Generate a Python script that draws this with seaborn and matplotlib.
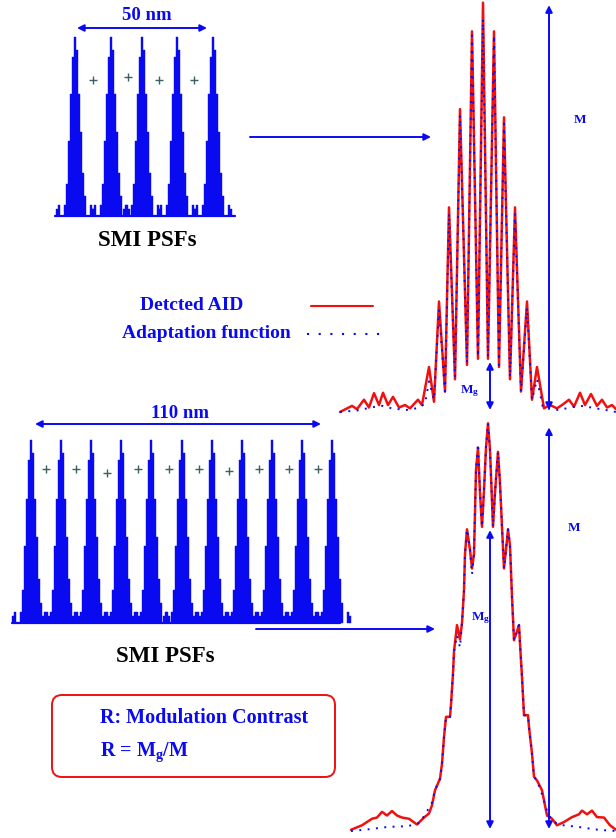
import numpy as np
import pandas as pd
import matplotlib
matplotlib.use('Agg')
import matplotlib.pyplot as plt
import seaborn as sns
from matplotlib.patches import FancyBboxPatch

# ---- data ----
# single SMI PSF profile (stepped), heights relative to peak, bins of 0.77 nm
psf_bin_nm = 0.77
psf_offset_bins = [-9, -8, -5, -4, -3, -2, -1, 0, 1, 2, 3, 4, 5, 8, 9]
psf_height = [0.04, 0.06, 0.06, 0.18, 0.42, 0.68, 0.89, 1.0, 0.93, 0.68, 0.47, 0.24, 0.11, 0.06, 0.04]

# peak centres (nm) of the two PSF trains and the "+" object positions
top_peaks_nm = [0, 13.8, 25.8, 39.2, 53.1]
top_plus_nm = [6.9, 20.4, 32.3, 45.8]
top_plus_h = [0.76, 0.775, 0.76, 0.76]
bot_peaks_nm = [0, 11.5, 23.1, 34.6, 46.2, 58.1, 69.6, 81.2, 92.7, 104.2, 115.8]
bot_plus_nm = [5.8, 17.3, 29.2, 41.2, 53.1, 64.6, 76.2, 87.7, 99.2, 110.4]
bot_plus_h = [0.84, 0.84, 0.82, 0.84, 0.84, 0.84, 0.83, 0.84, 0.84, 0.84]

# detected AID (red) and adaptation function (blue), 50 nm case
top_x = [-143, -131, -126, -119, -114, -109, -104, -100, -95, -90, -84, -78, -73, -65, -61,
         -54, -49, -44, -38, -34, -28, -23, -16, -11, -5, 0, 5, 11, 16, 21, 27, 32, 38, 44,
         49, 54, 61, 67, 74, 79, 86, 91, 97, 102, 108, 114, 119, 124, 129, 133]
top_aid = [0.0, 0.015, 0.007, 0.03, 0.011, 0.046, 0.017, 0.047, 0.017, 0.037, 0.011, 0.017,
           0.009, 0.03, 0.017, 0.11, 0.025, 0.27, 0.05, 0.50, 0.08, 0.74, 0.115, 0.93, 0.13,
           1.0, 0.13, 0.93, 0.11, 0.72, 0.08, 0.50, 0.05, 0.27, 0.03, 0.11, 0.009, 0.017,
           0.009, 0.017, 0.03, 0.013, 0.047, 0.017, 0.044, 0.015, 0.03, 0.011, 0.017, 0.007]
top_fit_x = [-143, -125, -110, -100, -90, -75, -65, -58, -54, -49, -44, -38, -34, -28, -23,
             -16, -11, -5, 0, 5, 11, 16, 21, 27, 32, 38, 44, 49, 54, 60, 75, 90, 100, 110,
             125, 133]
top_fit = [0.0, 0.004, 0.012, 0.015, 0.008, 0.005, 0.01, 0.02, 0.075, 0.03, 0.25, 0.05,
           0.485, 0.085, 0.725, 0.12, 0.92, 0.135, 0.96, 0.135, 0.92, 0.115, 0.705, 0.085,
           0.485, 0.05, 0.255, 0.03, 0.08, 0.01, 0.005, 0.012, 0.015, 0.01, 0.004, 0.0]

# 110 nm case
bot_x = [-137, -126, -116, -111, -106, -101, -96, -91, -86, -79, -71, -64, -59, -56, -53,
         -48, -46, -44, -42, -38, -37, -35, -34, -31, -28, -26, -24, -23, -21, -18, -16, -14,
         -12, -10, -8, -6, -4, -2, 0, 2, 5, 7, 10, 12, 14, 16, 18, 20, 22, 24, 26, 29, 31, 32,
         34, 36, 40, 41, 44, 46, 49, 54, 59, 64, 69, 76, 84, 91, 94, 99, 104, 109, 116, 122, 128]
bot_aid = [0.003, 0.014, 0.03, 0.033, 0.047, 0.038, 0.049, 0.038, 0.033, 0.03, 0.016, 0.033,
           0.043, 0.063, 0.10, 0.128, 0.165, 0.23, 0.28, 0.28, 0.31, 0.386, 0.44, 0.505, 0.47,
           0.51, 0.59, 0.68, 0.74, 0.69, 0.644, 0.68, 0.885, 0.94, 0.83, 0.746, 0.836, 0.94,
           1.0, 0.935, 0.746, 0.83, 0.93, 0.853, 0.746, 0.644, 0.69, 0.74, 0.70, 0.574, 0.468,
           0.49, 0.505, 0.46, 0.378, 0.284, 0.284, 0.255, 0.19, 0.133, 0.124, 0.10, 0.038,
           0.03, 0.014, 0.022, 0.034, 0.041, 0.05, 0.041, 0.05, 0.034, 0.033, 0.014, 0.003]
bot_fit_x = [-137, -120, -100, -80, -68, -62, -58, -56, -53, -48, -46, -44, -42, -38, -37,
             -35, -34, -31, -28, -26, -24, -23, -21, -18, -16, -14, -12, -10, -8, -6, -4, -2,
             0, 2, 5, 7, 10, 12, 14, 16, 18, 20, 22, 24, 26, 29, 31, 32, 34, 36, 40, 41, 44,
             46, 49, 54, 59, 64, 72, 90, 110, 128]
bot_fit = [0.0, 0.004, 0.01, 0.012, 0.02, 0.045, 0.06, 0.07, 0.10, 0.128, 0.165, 0.23, 0.28,
           0.28, 0.31, 0.386, 0.44, 0.48, 0.45, 0.51, 0.59, 0.68, 0.74, 0.69, 0.63, 0.68,
           0.885, 0.95, 0.83, 0.746, 0.836, 0.94, 1.0, 0.935, 0.746, 0.83, 0.93, 0.853, 0.746,
           0.644, 0.69, 0.74, 0.70, 0.574, 0.468, 0.49, 0.505, 0.46, 0.378, 0.284, 0.284,
           0.255, 0.19, 0.133, 0.124, 0.09, 0.05, 0.025, 0.015, 0.01, 0.003, 0.0]

BLUE = '#0a0af0'
RED = '#f01010'
PLUS = '#3d6060'
DOTS = (0, (1, 3.3))

sns.set_theme(style='white')
plt.rcParams['font.family'] = ['Liberation Serif', 'DejaVu Serif']
plt.rcParams['font.weight'] = 'bold'
plt.rcParams['mathtext.fontset'] = 'custom'
plt.rcParams['mathtext.rm'] = 'Liberation Serif:bold'
plt.rcParams['mathtext.it'] = 'Liberation Serif:bold'
plt.rcParams['mathtext.bf'] = 'Liberation Serif:bold'

W, H = 616, 838
fig = plt.figure(figsize=(W / 100, H / 100), dpi=100)


def px_axes(left, top, right, bottom):
    return fig.add_axes([left / W, 1 - bottom / H, (right - left) / W, (bottom - top) / H])


def draw_psfs(ax, centres, plus_x, plus_h):
    offs = np.array(psf_offset_bins) * psf_bin_nm
    for c in centres:
        ax.bar(c + offs, psf_height, width=psf_bin_nm, color=BLUE, edgecolor=BLUE,
               linewidth=0.3, clip_on=False)
    ax.axhline(0, color=BLUE, lw=1.6, clip_on=False)
    ax.plot(plus_x, plus_h, ls='none', marker='+', ms=6, mew=1.0, color=PLUS)
    ax.set_ylim(0, 1)
    ax.axis('off')


# PSF trains
ax_p1 = px_axes(55, 37, 235, 216)
ax_p1.set_xlim(-7.7, 61.5)
draw_psfs(ax_p1, top_peaks_nm, top_plus_nm, top_plus_h)

ax_p2 = px_axes(12, 440, 340, 623)
ax_p2.set_xlim(-7.3, 118.8)
draw_psfs(ax_p2, bot_peaks_nm, bot_plus_nm, bot_plus_h)


def draw_curves(ax, x, aid, fx, fit):
    df_a = pd.DataFrame({'x': x, 'y': aid})
    df_f = pd.DataFrame({'x': fx, 'y': fit})
    sns.lineplot(data=df_a, x='x', y='y', ax=ax, color=RED, lw=1.8, estimator=None, sort=False)
    sns.lineplot(data=df_f, x='x', y='y', ax=ax, color=BLUE, lw=1.4, estimator=None,
                 sort=False)
    ax.lines[-1].set_linestyle(DOTS)
    ax.lines[-1].set_dash_capstyle('butt')
    for ln in ax.lines:
        ln.set_clip_on(False)
    ax.set_ylim(0, 1)
    ax.axis('off')


def dbl_arrow(ax, x, y0, y1):
    ax.annotate('', xy=(x, y1), xytext=(x, y0), xycoords='data', annotation_clip=False,
                arrowprops=dict(arrowstyle='<|-|>', color=BLUE, lw=1.4, mutation_scale=10,
                                shrinkA=0, shrinkB=0))


ax_c1 = px_axes(340, 2.7, 616, 412)
ax_c1.set_xlim(-143, 133)
draw_curves(ax_c1, top_x, top_aid, top_fit_x, top_fit)
dbl_arrow(ax_c1, 66, 0.005, 0.994)
dbl_arrow(ax_c1, 7, 0.005, 0.122)

ax_c2 = px_axes(350, 423.3, 616, 831)
ax_c2.set_xlim(-138, 128)
draw_curves(ax_c2, bot_x, bot_aid, bot_fit_x, bot_fit)
dbl_arrow(ax_c2, 61, 0.005, 0.99)
dbl_arrow(ax_c2, 2, 0.005, 0.738)

# overlay in picture pixels for labels, arrows and legend
ov = fig.add_axes([0, 0, 1, 1])
ov.set_xlim(0, W)
ov.set_ylim(H, 0)
ov.axis('off')
ov.patch.set_alpha(0)

arrow_kw = dict(color=BLUE, lw=1.4, mutation_scale=10, shrinkA=0, shrinkB=0)
ov.annotate('', xy=(207, 28), xytext=(77, 28), arrowprops=dict(arrowstyle='<|-|>', **arrow_kw))
ov.annotate('', xy=(321, 424), xytext=(35, 424), arrowprops=dict(arrowstyle='<|-|>', **arrow_kw))
ov.annotate('', xy=(431, 137), xytext=(250, 137), arrowprops=dict(arrowstyle='-|>', **arrow_kw))
ov.annotate('', xy=(435, 629), xytext=(256, 629), arrowprops=dict(arrowstyle='-|>', **arrow_kw))

ov.text(147, 16, '50 nm', color=BLUE, fontsize=13.5, ha='center', va='center')
ov.text(180, 413, '110 nm', color=BLUE, fontsize=13.5, ha='center', va='center')
ov.text(147, 240, 'SMI PSFs', color='black', fontsize=16.5, ha='center', va='center')
ov.text(165, 656, 'SMI PSFs', color='black', fontsize=16.5, ha='center', va='center')

ov.text(580, 120, 'M', color=BLUE, fontsize=9.5, ha='center', va='center')
ov.text(574, 528, 'M', color=BLUE, fontsize=9.5, ha='center', va='center')
ov.text(470, 391, r'M$_{g}$', color=BLUE, fontsize=9.5, ha='center', va='center')
ov.text(481, 618, r'M$_{g}$', color=BLUE, fontsize=9.5, ha='center', va='center')

# legend
ov.text(192, 305, 'Detcted AID', color=BLUE, fontsize=14, ha='center', va='center')
ov.text(206, 333, 'Adaptation function', color=BLUE, fontsize=14, ha='center', va='center')
ov.plot([311, 373], [306, 306], color=RED, lw=1.5)
ov.plot([307, 387], [334, 334], color=BLUE, lw=1.5, ls=(0, (1, 4.6)), dash_capstyle='butt')

# formula box
box = FancyBboxPatch((52, 695), 283, 82, boxstyle='round,pad=0,rounding_size=10',
                     fc='none', ec=RED, lw=1.4)
ov.add_patch(box)
ov.text(100, 718, 'R: Modulation Contrast', color=BLUE, fontsize=14.5, ha='left', va='center')
ov.text(100, 752, r'R = M$_{g}$/M', color=BLUE, fontsize=14.5, ha='left', va='center')

fig.savefig('out.png', dpi=100)
